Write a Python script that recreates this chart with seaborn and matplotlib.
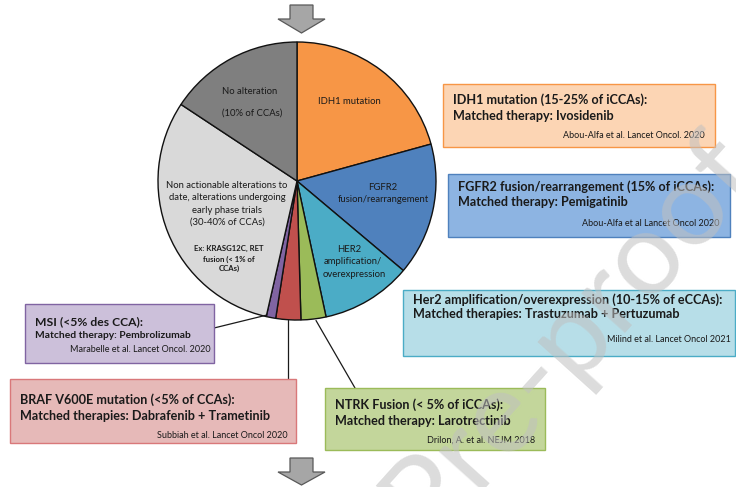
import numpy as np
import seaborn as sns
import matplotlib.pyplot as plt
from matplotlib.patches import Rectangle, Polygon

# pie slices, clockwise from 12 o'clock
slice_names = ['IDH1', 'FGFR2', 'HER2', 'NTRK', 'BRAF', 'MSI', 'Non actionable', 'No alteration']
slice_values = [20.7, 15.4, 10.5, 2.9, 2.9, 1.1, 30.7, 15.7]
slice_colors = ['#F79646', '#4F81BD', '#4BACC6', '#9BBB59', '#C0504D', '#8064A2', '#D9D9D9', '#7F7F7F']

# text boxes
box_titles = ['IDH1 mutation (15-25% of iCCAs):',
              'FGFR2 fusion/rearrangement (15% of iCCAs):',
              'Her2 amplification/overexpression (10-15% of eCCAs):',
              'MSI (<5% des CCA):',
              'BRAF V600E mutation (<5% of CCAs):',
              'NTRK Fusion (< 5% of iCCAs):']
box_therapies = ['Matched therapy: Ivosidenib',
                 'Matched therapy: Pemigatinib',
                 'Matched therapies: Trastuzumab + Pertuzumab',
                 'Matched therapy: Pembrolizumab',
                 'Matched therapies: Dabrafenib + Trametinib',
                 'Matched therapy: Larotrectinib']
box_refs = ['Abou-Alfa et al. Lancet Oncol. 2020',
            'Abou-Alfa et al Lancet Oncol 2020',
            'Milind et al. Lancet Oncol 2021',
            'Marabelle et al. Lancet Oncol. 2020',
            'Subbiah et al. Lancet Oncol 2020',
            'Drilon, A. et al. NEJM 2018']
box_fill = ['#FCD5B4', '#8DB4E2', '#B7DEE8', '#CCC0DA', '#E6B9B8', '#C3D69B']
box_edge = ['#F79646', '#4F81BD', '#4BACC6', '#8064A2', '#D9787A', '#9BBB59']

sns.set_theme(style='white')
plt.rcParams['font.family'] = ['Lato', 'DejaVu Sans']

W, H = 736, 487
fig = plt.figure(figsize=(W / 100, H / 100), dpi=100)
ax = fig.add_axes([0, 0, 1, 1])


def Y(y):
    # image row -> data y
    return H - y


# pie
cx, cy, r = 297, 181, 139
ax.pie(slice_values, colors=slice_colors, startangle=90, counterclock=False,
       center=(cx, Y(cy)), radius=r, frame=True,
       wedgeprops=dict(edgecolor='#111111', linewidth=1.0))
ax.set_xlim(0, W)
ax.set_ylim(0, H)
ax.set_aspect('equal')
ax.axis('off')

fs = 6.8
ax.text(250, Y(91), 'No alteration', fontsize=fs, ha='center', va='center', color='#1a1a1a')
ax.text(252, Y(113), '(10% of CCAs)', fontsize=fs, ha='center', va='center', color='#1a1a1a')
ax.text(349, Y(102), 'IDH1 mutation', fontsize=fs, ha='center', va='center', color='#1a1a1a')
ax.text(383, Y(187), 'FGFR2', fontsize=fs, ha='center', va='center', color='#1a1a1a')
ax.text(383, Y(199.5), 'fusion/rearrangement', fontsize=fs, ha='center', va='center', color='#1a1a1a')
ax.text(349, Y(250), 'HER2', fontsize=fs, ha='center', va='center', color='#1a1a1a')
ax.text(353, Y(262), 'amplification/', fontsize=fs, ha='center', va='center', color='#1a1a1a')
ax.text(354, Y(274.5), 'overexpression', fontsize=fs, ha='center', va='center', color='#1a1a1a')
for txt, yy in zip(['Non actionable alterations to', 'date, alterations undergoing',
                    'early phase trials', '(30-40% of CCAs)'], [186, 197.5, 210.5, 222.5]):
    ax.text(227, Y(yy), txt, fontsize=fs, ha='center', va='center', color='#1a1a1a')
for txt, yy in zip(['Ex: KRASG12C, RET', 'fusion (< 1% of', 'CCAs)'], [248.5, 259, 268.5]):
    ax.text(229, Y(yy), txt, fontsize=5.6, ha='center', va='center',
            fontweight='bold', color='#1a1a1a')

# boxes: x0, x1, y_top, y_bottom (image rows)
boxes = [(443, 715, 84, 147), (448, 730, 174, 237), (403, 735, 290, 356),
         (25, 214, 304, 363), (10, 296, 379, 443), (325, 545, 388, 450)]
title_y = [100, 187, 300, 321.5, 400, 405]
ther_y = [116, 202, 314.5, 335, 416.5, 421]
ref_y = [136, 223, 339, 350, 435, 440]
ref_x = [705, 720, 731, 211, 288, 535]
title_fs = [9.1, 9.1, 9.1, 8.7, 9.1, 9.1]
ther_fs = [9.1, 9.1, 9.1, 7.4, 9.1, 9.1]

for i, (x0, x1, yt, yb) in enumerate(boxes):
    ax.add_patch(Rectangle((x0, Y(yb)), x1 - x0, yb - yt, facecolor=box_fill[i],
                           edgecolor=box_edge[i], linewidth=1.0, zorder=2))
    ax.text(x0 + 10, Y(title_y[i]), box_titles[i], fontsize=title_fs[i], fontweight='bold',
            ha='left', va='center', color='#1a1a1a', zorder=3)
    ax.text(x0 + 10, Y(ther_y[i]), box_therapies[i], fontsize=ther_fs[i], fontweight='bold',
            ha='left', va='center', color='#1a1a1a', zorder=3)
    ax.text(ref_x[i], Y(ref_y[i]), box_refs[i], fontsize=6.5, ha='right', va='center',
            color='#1a1a1a', zorder=3)

# leader lines
ax.plot([214, 267], [Y(328), Y(315)], color='#1a1a1a', lw=0.9, zorder=1)
ax.plot([288.3, 288.3], [Y(320), Y(379)], color='#1a1a1a', lw=0.9, zorder=1)
ax.plot([316, 355], [Y(320.5), Y(388)], color='#1a1a1a', lw=0.9, zorder=1)

# arrows
for top, sb, tip in [(5, 19, 33), (458, 472, 485)]:
    pts = [(290, top), (313, top), (313, sb), (325, sb), (301.5, tip), (278, sb), (290, sb)]
    ax.add_patch(Polygon([(x, Y(y)) for x, y in pts], closed=True, facecolor='#A6A6A6',
                         edgecolor='#595959', linewidth=0.9, zorder=2))

# watermark
ax.text(765, Y(178), 'Journal Pre-proof', fontsize=84, rotation=48, rotation_mode='anchor',
        ha='right', va='baseline', color='#c0c0c0', alpha=0.55, zorder=5)

plt.savefig('out.png', dpi=100)
